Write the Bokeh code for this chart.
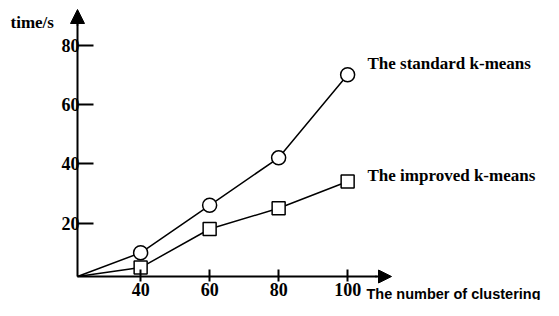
from bokeh.plotting import figure
from bokeh.models import Range1d, FixedTicker, Label, Arrow, NormalHead
from bokeh.embed import file_html
from bokeh.resources import INLINE

# ---- data ----
clusters = [40, 60, 80, 100]
standard_time = [10, 26, 42, 70]
improved_time = [5, 18, 25, 34]
x_ticks = [40, 60, 80, 100]
y_ticks = [20, 40, 60, 80]
origin_x = 21.7
origin_y = 2

# ---- scale helpers (picture px -> data) ----
X_PX = 3.45      # px per x unit
Y_PX = 2.967     # px per y unit
AXIS_X = 77      # picture x of the y axis
AXIS_Y = 276     # picture y of the x axis
W, H = 543, 300


def sx(px):
    return origin_x + (px - AXIS_X) / X_PX


def sy(py):
    return origin_y + (AXIS_Y - py) / Y_PX


p = figure(width=W, height=H, output_backend="svg", toolbar_location=None,
           x_range=Range1d(sx(0), sx(W)), y_range=Range1d(sy(H), sy(0)),
           min_border=0)
p.title.visible = False
p.outline_line_color = None
p.xgrid.visible = False
p.ygrid.visible = False
p.background_fill_color = "white"
p.border_fill_color = "white"

# axes, fixed at the origin
xa = p.xaxis[0]
xa.fixed_location = origin_y
xa.ticker = FixedTicker(ticks=x_ticks)
xa.bounds = (origin_x, sx(376))
xa.axis_line_width = 2
xa.major_tick_line_width = 2
xa.major_tick_in = 7
xa.major_tick_out = 5
xa.minor_tick_line_color = None
xa.major_label_standoff = 1
xa.major_label_text_font = "Liberation Serif"
xa.major_label_text_font_style = "bold"
xa.major_label_text_font_size = "18px"
xa.major_label_text_color = "black"

ya = p.yaxis[0]
ya.fixed_location = origin_x
ya.ticker = FixedTicker(ticks=y_ticks)
ya.bounds = (origin_y, sy(24))
ya.axis_line_width = 2
ya.major_tick_line_width = 2
ya.major_tick_in = 16
ya.major_tick_out = 0
ya.minor_tick_line_color = None
ya.major_label_standoff = -2
ya.major_label_text_font = "Liberation Serif"
ya.major_label_text_font_style = "bold"
ya.major_label_text_font_size = "18px"
ya.major_label_text_color = "black"

# arrow heads
p.add_layout(Arrow(x_start=origin_x, y_start=sy(25), x_end=origin_x, y_end=sy(9),
                   line_width=2, line_color="black",
                   end=NormalHead(size=14, fill_color="black", line_color="black")))
p.add_layout(Arrow(x_start=sx(375), y_start=origin_y, x_end=sx(391), y_end=origin_y,
                   line_width=2, line_color="black",
                   end=NormalHead(size=13, fill_color="black", line_color="black")))

# series lines (start at the axes origin)
p.line([origin_x] + clusters, [origin_y] + standard_time, line_color="black", line_width=1.5)
p.line([origin_x] + clusters, [origin_y] + improved_time, line_color="black", line_width=1.5)
p.scatter(clusters, standard_time, marker="circle", size=14, fill_color="white",
          line_color="black", line_width=1.5)
p.scatter(clusters, improved_time, marker="square", size=13, fill_color="white",
          line_color="black", line_width=1.5)

# texts
serif = dict(text_font="Liberation Serif", text_font_style="bold", text_color="black",
             text_baseline="alphabetic")
p.add_layout(Label(x=sx(10), y=sy(22), text="time/s", text_font_size="17px", **serif))
p.add_layout(Label(x=sx(367), y=sy(62.5), text="The standard k-means",
                   text_font_size="17px", **serif))
p.add_layout(Label(x=sx(367), y=sy(175), text="The  improved k-means",
                   text_font_size="17px", **serif))
p.add_layout(Label(x=sx(366), y=sy(293), text="The number of clustering",
                   text_font="Liberation Sans", text_font_style="bold",
                   text_font_size="14.5px", text_color="black", text_baseline="alphabetic"))

open("out.html", "w").write(file_html(p, INLINE))
